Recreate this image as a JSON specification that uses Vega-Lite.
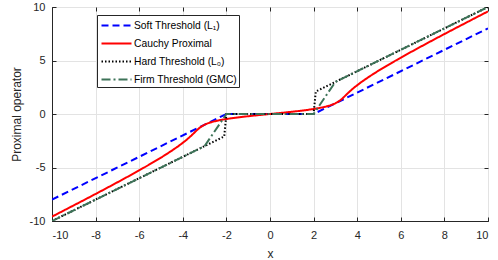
{
 "$schema": "https://vega.github.io/schema/vega-lite/v6.json",
 "width": 436,
 "height": 214,
 "autosize": {"type": "none"},
 "padding": {"left": 52, "top": 7, "right": 10, "bottom": 39},
 "background": "white",
 "config": {
  "font": "Liberation Sans",
  "view": {"stroke": "#262626", "strokeWidth": 1},
  "axis": {
   "domainColor": "#262626", "tickColor": "#262626", "labelColor": "#262626", "titleColor": "#262626",
   "labelFontSize": 11, "titleFontSize": 12, "titleFontWeight": "normal",
   "gridColor": "#e3e3e3", "gridOpacity": 1, "tickSize": -4
  },
  "legend": {
   "orient": "none", "legendX": 45, "legendY": 8, "title": null,
   "strokeColor": "#262626", "fillColor": "white", "padding": 2,
   "symbolType": "M-2,0H2", "symbolSize": 225, "symbolStrokeWidth": 2, "symbolOffset": 9,
   "labelFontSize": 10.3, "labelColor": "#000000", "labelLimit": 300, "rowPadding": 4, "labelOffset": 9
  }
 },
 "data": {"values": [
  {"s": "Soft Threshold (L₁)", "x": -10, "y": -8},
  {"s": "Soft Threshold (L₁)", "x": -2, "y": 0},
  {"s": "Soft Threshold (L₁)", "x": 2, "y": 0},
  {"s": "Soft Threshold (L₁)", "x": 10, "y": 8},
  {"s": "Cauchy Proximal", "x": -10, "y": -9.59},
  {"s": "Cauchy Proximal", "x": -9.439, "y": -9},
  {"s": "Cauchy Proximal", "x": -8.492, "y": -8},
  {"s": "Cauchy Proximal", "x": -7.56, "y": -7},
  {"s": "Cauchy Proximal", "x": -6.649, "y": -6},
  {"s": "Cauchy Proximal", "x": -5.769, "y": -5},
  {"s": "Cauchy Proximal", "x": -5.347, "y": -4.5},
  {"s": "Cauchy Proximal", "x": -4.941, "y": -4},
  {"s": "Cauchy Proximal", "x": -4.557, "y": -3.5},
  {"s": "Cauchy Proximal", "x": -4.2, "y": -3},
  {"s": "Cauchy Proximal", "x": -3.879, "y": -2.5},
  {"s": "Cauchy Proximal", "x": -3.707, "y": -2.2},
  {"s": "Cauchy Proximal", "x": -3.6, "y": -2},
  {"s": "Cauchy Proximal", "x": -3.498, "y": -1.8},
  {"s": "Cauchy Proximal", "x": -3.398, "y": -1.6},
  {"s": "Cauchy Proximal", "x": -3.346, "y": -1.5},
  {"s": "Cauchy Proximal", "x": -3.292, "y": -1.4},
  {"s": "Cauchy Proximal", "x": -3.233, "y": -1.3},
  {"s": "Cauchy Proximal", "x": -3.167, "y": -1.2},
  {"s": "Cauchy Proximal", "x": -3.091, "y": -1.1},
  {"s": "Cauchy Proximal", "x": -3.0, "y": -1.0},
  {"s": "Cauchy Proximal", "x": -2.889, "y": -0.9},
  {"s": "Cauchy Proximal", "x": -2.751, "y": -0.8},
  {"s": "Cauchy Proximal", "x": -2.579, "y": -0.7},
  {"s": "Cauchy Proximal", "x": -2.365, "y": -0.6},
  {"s": "Cauchy Proximal", "x": -2.1, "y": -0.5},
  {"s": "Cauchy Proximal", "x": -1.779, "y": -0.4},
  {"s": "Cauchy Proximal", "x": -1.401, "y": -0.3},
  {"s": "Cauchy Proximal", "x": -0.969, "y": -0.2},
  {"s": "Cauchy Proximal", "x": -0.496, "y": -0.1},
  {"s": "Cauchy Proximal", "x": 0, "y": 0},
  {"s": "Cauchy Proximal", "x": 0.496, "y": 0.1},
  {"s": "Cauchy Proximal", "x": 0.969, "y": 0.2},
  {"s": "Cauchy Proximal", "x": 1.401, "y": 0.3},
  {"s": "Cauchy Proximal", "x": 1.779, "y": 0.4},
  {"s": "Cauchy Proximal", "x": 2.1, "y": 0.5},
  {"s": "Cauchy Proximal", "x": 2.365, "y": 0.6},
  {"s": "Cauchy Proximal", "x": 2.579, "y": 0.7},
  {"s": "Cauchy Proximal", "x": 2.751, "y": 0.8},
  {"s": "Cauchy Proximal", "x": 2.889, "y": 0.9},
  {"s": "Cauchy Proximal", "x": 3.0, "y": 1.0},
  {"s": "Cauchy Proximal", "x": 3.091, "y": 1.1},
  {"s": "Cauchy Proximal", "x": 3.167, "y": 1.2},
  {"s": "Cauchy Proximal", "x": 3.233, "y": 1.3},
  {"s": "Cauchy Proximal", "x": 3.292, "y": 1.4},
  {"s": "Cauchy Proximal", "x": 3.346, "y": 1.5},
  {"s": "Cauchy Proximal", "x": 3.398, "y": 1.6},
  {"s": "Cauchy Proximal", "x": 3.498, "y": 1.8},
  {"s": "Cauchy Proximal", "x": 3.6, "y": 2.0},
  {"s": "Cauchy Proximal", "x": 3.707, "y": 2.2},
  {"s": "Cauchy Proximal", "x": 3.879, "y": 2.5},
  {"s": "Cauchy Proximal", "x": 4.2, "y": 3.0},
  {"s": "Cauchy Proximal", "x": 4.557, "y": 3.5},
  {"s": "Cauchy Proximal", "x": 4.941, "y": 4.0},
  {"s": "Cauchy Proximal", "x": 5.347, "y": 4.5},
  {"s": "Cauchy Proximal", "x": 5.769, "y": 5.0},
  {"s": "Cauchy Proximal", "x": 6.649, "y": 6.0},
  {"s": "Cauchy Proximal", "x": 7.56, "y": 7.0},
  {"s": "Cauchy Proximal", "x": 8.492, "y": 8.0},
  {"s": "Cauchy Proximal", "x": 9.439, "y": 9.0},
  {"s": "Cauchy Proximal", "x": 10, "y": 9.59},
  {"s": "Hard Threshold (L₀)", "x": -10, "y": -10},
  {"s": "Hard Threshold (L₀)", "x": -2.1, "y": -2.1},
  {"s": "Hard Threshold (L₀)", "x": -2, "y": 0},
  {"s": "Hard Threshold (L₀)", "x": 2, "y": 0},
  {"s": "Hard Threshold (L₀)", "x": 2.1, "y": 2.1},
  {"s": "Hard Threshold (L₀)", "x": 10, "y": 10},
  {"s": "Firm Threshold (GMC)", "x": -10, "y": -10},
  {"s": "Firm Threshold (GMC)", "x": -3, "y": -3},
  {"s": "Firm Threshold (GMC)", "x": -2, "y": 0},
  {"s": "Firm Threshold (GMC)", "x": 2, "y": 0},
  {"s": "Firm Threshold (GMC)", "x": 3, "y": 3},
  {"s": "Firm Threshold (GMC)", "x": 10, "y": 10}
 ]},
 "resolve": {"axis": {"x": "independent", "y": "independent"}},
 "layer": [
  {
   "mark": {"type": "line", "strokeWidth": 2, "clip": true},
   "encoding": {
    "x": {"field": "x", "type": "quantitative",
     "scale": {"domain": [-10, 10], "nice": false},
     "axis": {"orient": "bottom", "values": [-10, -8, -6, -4, -2, 0, 2, 4, 6, 8, 10], "title": "x",
      "labelExpr": "replace(datum.label, '\u2212', '-')", "labelPadding": 12, "titlePadding": 8, "grid": true}},
    "y": {"field": "y", "type": "quantitative",
     "scale": {"domain": [-10, 10], "nice": false},
     "axis": {"orient": "left", "values": [-10, -5, 0, 5, 10], "title": "Proximal operator",
      "labelExpr": "replace(datum.label, '\u2212', '-')", "labelPadding": 11, "titlePadding": 6, "grid": true}},
    "color": {"field": "s", "type": "nominal",
     "scale": {"domain": ["Soft Threshold (L₁)", "Cauchy Proximal", "Hard Threshold (L₀)", "Firm Threshold (GMC)"],
      "range": ["#0000ff", "#ff0000", "#000000", "#3d7358"]}},
    "strokeDash": {"field": "s", "type": "nominal",
     "scale": {"domain": ["Soft Threshold (L₁)", "Cauchy Proximal", "Hard Threshold (L₀)", "Firm Threshold (GMC)"],
      "range": [[7, 4], [1, 0], [1.5, 2], [9, 3, 2, 3]]}},
    "order": {"field": "x", "type": "quantitative"}
   }
  },
  {
   "mark": {"type": "point", "opacity": 0},
   "encoding": {
    "x": {"field": "x", "type": "quantitative",
     "axis": {"orient": "top", "values": [-10, -8, -6, -4, -2, 0, 2, 4, 6, 8, 10], "labels": false, "title": null, "grid": false, "domain": false}},
    "y": {"field": "y", "type": "quantitative",
     "axis": {"orient": "right", "values": [-10, -5, 0, 5, 10], "labels": false, "title": null, "grid": false, "domain": false}}
   }
  }
 ]
}
